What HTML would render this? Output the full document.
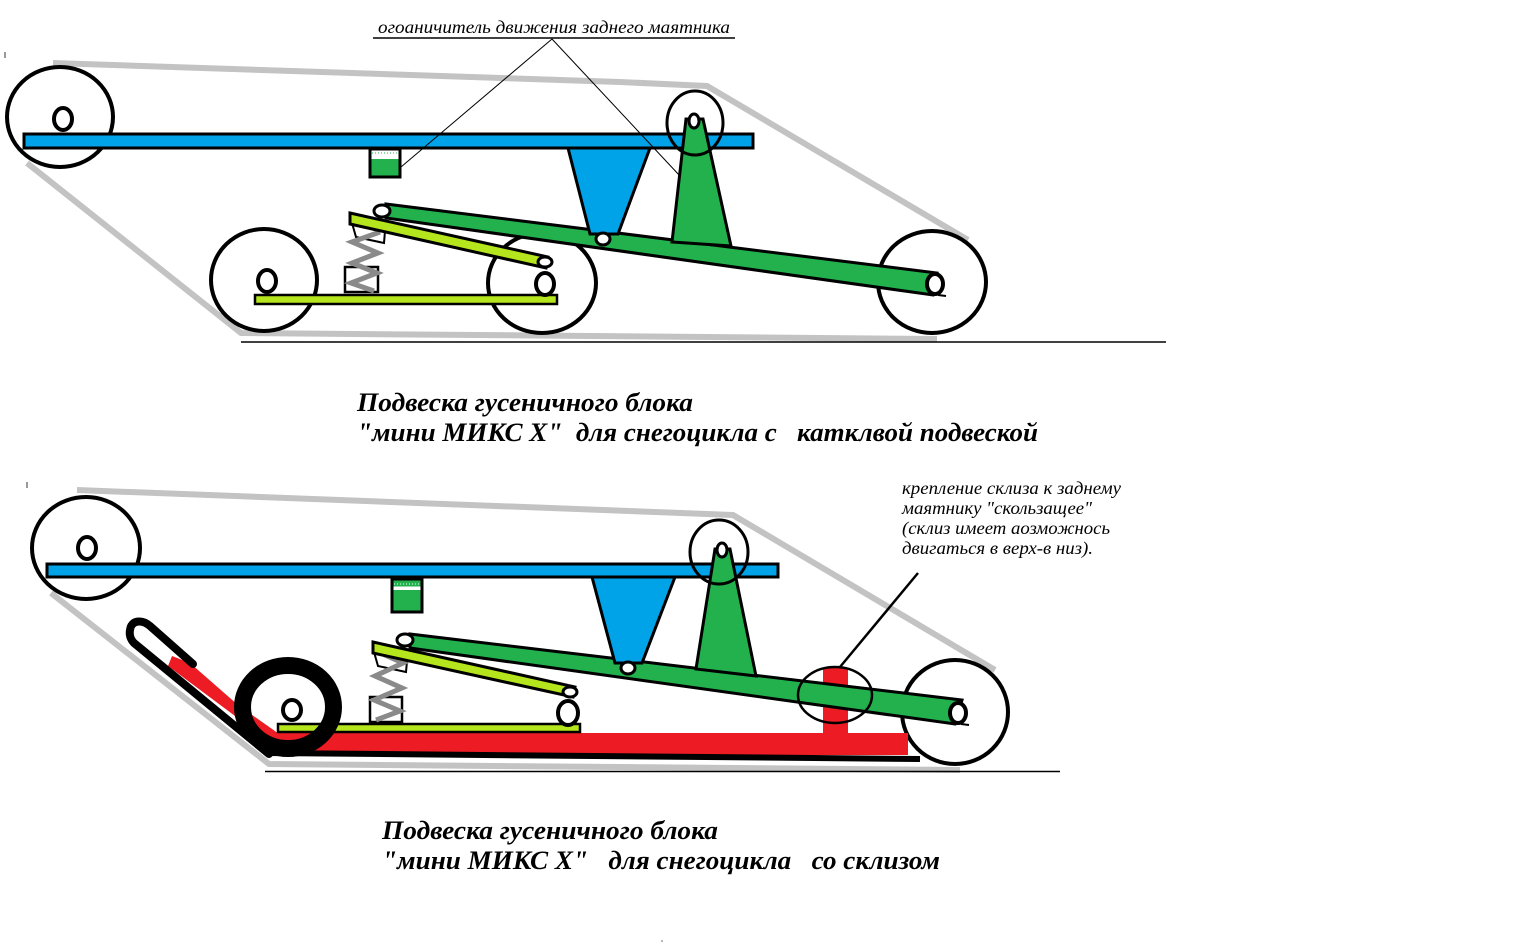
<!DOCTYPE html>
<html>
<head>
<meta charset="utf-8">
<style>
  html, body { margin:0; padding:0; background:#ffffff; }
  body { width:1536px; height:946px; overflow:hidden; }
  svg { display:block; }
  .t { font-family: "Liberation Serif", "DejaVu Serif", serif; font-style: italic; white-space: pre; }
  .b { font-weight: bold; }
</style>
</head>
<body>
<svg width="1536" height="946" viewBox="0 0 1536 946" xmlns="http://www.w3.org/2000/svg">
  <rect width="1536" height="946" fill="#ffffff"/>

  <!-- ================= TOP DIAGRAM ================= -->
  <line x1="5" y1="52" x2="5" y2="58" stroke="#333" stroke-width="1"/>

  <!-- track belt -->
  <polyline points="53,63 620,82 707,86 968,240" fill="none" stroke="#c3c3c3" stroke-width="6" stroke-linejoin="round"/>
  <polyline points="27,163 241,333 590,336 937,339" fill="none" stroke="#c3c3c3" stroke-width="6" stroke-linejoin="round"/>
  <line x1="241" y1="342" x2="1166" y2="342" stroke="#000" stroke-width="1.5"/>

  <!-- left big wheel -->
  <ellipse cx="60" cy="117" rx="53" ry="50" fill="none" stroke="#000" stroke-width="4"/>
  <ellipse cx="63" cy="119" rx="9" ry="11" fill="#fff" stroke="#000" stroke-width="4"/>

  <!-- lower middle wheels -->
  <ellipse cx="264" cy="280" rx="53" ry="51" fill="none" stroke="#000" stroke-width="4"/>
  <ellipse cx="267" cy="281" rx="9" ry="11" fill="#fff" stroke="#000" stroke-width="4"/>
  <ellipse cx="542" cy="283" rx="54" ry="50" fill="none" stroke="#000" stroke-width="4"/>

  <!-- rear wheel -->
  <ellipse cx="932" cy="282" rx="54" ry="51" fill="none" stroke="#000" stroke-width="4"/>

  <!-- lime base bar -->
  <rect x="255" y="295" width="302" height="9" fill="#B5E61D" stroke="#000" stroke-width="2.5"/>
  <ellipse cx="545" cy="284" rx="9" ry="11" fill="#fff" stroke="#000" stroke-width="4"/>

  <!-- spring -->
  <rect x="345" y="267" width="33" height="25" fill="#fff" stroke="#000" stroke-width="2.5"/>
  <polygon points="352,223 385,231 384,243 356,237" fill="#fff" stroke="#000" stroke-width="2"/>
  <polyline points="380,232 352,242 378,253 352,263 377,273 351,283 374,291" fill="none" stroke="#8a8a8a" stroke-width="5"/>

  <!-- lime arm -->
  <polygon points="350,213 548,257 546,268 350,224" fill="#B5E61D" stroke="#000" stroke-width="3"/>
  <ellipse cx="545" cy="262" rx="7" ry="5" fill="#fff" stroke="#000" stroke-width="3"/>

  <!-- green arm -->
  <polygon points="386,204 937,273 933,295 386,218" fill="#22B14C" stroke="#000" stroke-width="3"/>
  <ellipse cx="382" cy="211" rx="8" ry="6" fill="#fff" stroke="#000" stroke-width="3"/>
  <ellipse cx="935" cy="284" rx="8" ry="10" fill="#fff" stroke="#000" stroke-width="4"/>
  <line x1="938" y1="295" x2="946" y2="296" stroke="#000" stroke-width="2"/>

  <!-- blue frame bar -->
  <rect x="24" y="134" width="729" height="14" fill="#00A2E8" stroke="#000" stroke-width="3"/>
  <!-- blue trapezoid -->
  <polygon points="568,148 650,148 618,234 590,234" fill="#00A2E8" stroke="#000" stroke-width="3"/>
  <ellipse cx="603" cy="239" rx="7" ry="6" fill="#fff" stroke="#000" stroke-width="3"/>

  <!-- green tower -->
  <polygon points="686,119 703,119 731,246 672,242" fill="#22B14C" stroke="#000" stroke-width="3"/>
  <ellipse cx="695" cy="123" rx="28" ry="32" fill="none" stroke="#000" stroke-width="3"/>
  <ellipse cx="694" cy="121" rx="5" ry="7" fill="#fff" stroke="#000" stroke-width="3"/>

  <!-- limiter box -->
  <rect x="370" y="149" width="30" height="28" fill="#fff" stroke="#000" stroke-width="3"/>
  <rect x="371.5" y="159" width="27" height="16.5" fill="#22B14C"/>
  <line x1="372" y1="153" x2="398" y2="153" stroke="#22B14C" stroke-width="1" stroke-dasharray="1,2"/>

  <!-- leader lines -->
  <line x1="373" y1="38" x2="735" y2="38" stroke="#000" stroke-width="1.5"/>
  <line x1="552" y1="39" x2="401" y2="167" stroke="#000" stroke-width="1"/>
  <line x1="552" y1="39" x2="680" y2="176" stroke="#000" stroke-width="1"/>
  <text class="t" x="378" y="33" font-size="18" textLength="352" lengthAdjust="spacingAndGlyphs">огоаничитель движения заднего маятника</text>

  <!-- top title -->
  <text class="t b" x="357" y="411" font-size="26" textLength="336" lengthAdjust="spacingAndGlyphs">Подвеска гусеничного блока</text>
  <text class="t b" x="357" y="441" font-size="26" textLength="681" lengthAdjust="spacingAndGlyphs">"мини МИКС Х"  для снегоцикла с   катклвой подвеской</text>

  <!-- ================= BOTTOM DIAGRAM ================= -->
  <line x1="27" y1="482" x2="27" y2="488" stroke="#333" stroke-width="1"/>

  <polyline points="77,490 733,515 995,670" fill="none" stroke="#c3c3c3" stroke-width="6" stroke-linejoin="round"/>
  <polyline points="51,593 269,764 960,770" fill="none" stroke="#c3c3c3" stroke-width="6" stroke-linejoin="round"/>
  <line x1="265" y1="771.5" x2="1060" y2="771.5" stroke="#000" stroke-width="1.5"/>

  <!-- left big wheel -->
  <ellipse cx="86" cy="548" rx="54" ry="51" fill="none" stroke="#000" stroke-width="4"/>
  <ellipse cx="87" cy="548" rx="9" ry="11" fill="#fff" stroke="#000" stroke-width="4"/>

  <!-- rear wheel -->
  <ellipse cx="955" cy="712" rx="53" ry="52" fill="none" stroke="#000" stroke-width="4"/>

  <!-- red ski -->
  <rect x="275" y="733" width="633" height="22" fill="#ED1C24"/>
  <rect x="823" y="667" width="25" height="70" rx="3" fill="#ED1C24"/>
  <polygon points="172,656 190,663 238,705 282,736 270,742 168,666" fill="#ED1C24"/>
  <line x1="267" y1="753" x2="920" y2="759" stroke="#000" stroke-width="6"/>
  <path d="M 193 664 L 150 626 C 142 619 131 620 130 630 C 129 636 131 640 134 643 L 269 754" fill="none" stroke="#000" stroke-width="8" stroke-linecap="round" stroke-linejoin="round"/>

  <!-- lime base bar -->
  <rect x="278" y="724" width="302" height="8" fill="#B5E61D" stroke="#000" stroke-width="2.5"/>

  <!-- front tire -->
  <ellipse cx="288" cy="707" rx="45.5" ry="41.5" fill="none" stroke="#000" stroke-width="17"/>
  <ellipse cx="292" cy="710" rx="9" ry="10" fill="#fff" stroke="#000" stroke-width="4"/>

  <!-- spring -->
  <rect x="370" y="697" width="32" height="25" fill="#fff" stroke="#000" stroke-width="2.5"/>
  <polygon points="374,652 407,661 406,672 378,666" fill="#fff" stroke="#000" stroke-width="2"/>
  <polyline points="378,652 403,663 375,676 402,688 374,700 400,711 376,720" fill="none" stroke="#8a8a8a" stroke-width="5"/>

  <!-- lime arm -->
  <polygon points="373,642 575,687 573,697 373,653" fill="#B5E61D" stroke="#000" stroke-width="3"/>
  <ellipse cx="570" cy="692" rx="7" ry="5" fill="#fff" stroke="#000" stroke-width="3"/>
  <ellipse cx="568" cy="713" rx="10" ry="12" fill="#fff" stroke="#000" stroke-width="4"/>

  <!-- green arm -->
  <polygon points="410,634 962,700 955,724 410,648" fill="#22B14C" stroke="#000" stroke-width="3"/>
  <ellipse cx="405" cy="640" rx="8" ry="6" fill="#fff" stroke="#000" stroke-width="3"/>
  <ellipse cx="958" cy="713" rx="8" ry="10" fill="#fff" stroke="#000" stroke-width="4"/>
  <line x1="961" y1="724" x2="969" y2="725" stroke="#000" stroke-width="2"/>

  <!-- blue bar -->
  <rect x="47" y="564" width="731" height="13" fill="#00A2E8" stroke="#000" stroke-width="3"/>
  <polygon points="592,577 675,577 642,663 615,663" fill="#00A2E8" stroke="#000" stroke-width="3"/>
  <ellipse cx="628" cy="668" rx="7" ry="6" fill="#fff" stroke="#000" stroke-width="3"/>

  <!-- tower -->
  <polygon points="715,549 730,549 756,676 696,669" fill="#22B14C" stroke="#000" stroke-width="3"/>
  <ellipse cx="719" cy="552" rx="29" ry="32" fill="none" stroke="#000" stroke-width="3"/>
  <ellipse cx="722" cy="550" rx="5" ry="7" fill="#fff" stroke="#000" stroke-width="3"/>

  <!-- green box -->
  <rect x="392" y="579" width="30" height="33" fill="#fff" stroke="#000" stroke-width="3"/>
  <rect x="393.5" y="580.5" width="27" height="6" fill="#22B14C"/>
  <line x1="394" y1="584" x2="420" y2="584" stroke="#fff" stroke-width="1" stroke-dasharray="1,2"/>
  <rect x="393.5" y="590" width="27" height="20.5" fill="#22B14C"/>

  <!-- slide mount circle and leader -->
  <ellipse cx="835" cy="695" rx="37" ry="28" fill="none" stroke="#000" stroke-width="2.5"/>
  <line x1="918" y1="573" x2="840" y2="667" stroke="#000" stroke-width="2.5"/>

  <!-- right caption -->
  <text class="t" x="902" y="494" font-size="17.5" textLength="219" lengthAdjust="spacingAndGlyphs">крепление склиза к заднему</text>
  <text class="t" x="902" y="514" font-size="17.5" textLength="190" lengthAdjust="spacingAndGlyphs">маятнику "скользащее"</text>
  <text class="t" x="902" y="534" font-size="17.5" textLength="208" lengthAdjust="spacingAndGlyphs">(склиз имеет аозможнось</text>
  <text class="t" x="902" y="554" font-size="17.5" textLength="191" lengthAdjust="spacingAndGlyphs">двигаться в верх-в низ).</text>

  <!-- bottom title -->
  <text class="t b" x="382" y="839" font-size="26" textLength="336" lengthAdjust="spacingAndGlyphs">Подвеска гусеничного блока</text>
  <text class="t b" x="382" y="869" font-size="26" textLength="558" lengthAdjust="spacingAndGlyphs">"мини МИКС Х"   для снегоцикла   со склизом</text>

  <circle cx="662" cy="941" r="0.8" fill="#666"/>
</svg>
</body>
</html>
